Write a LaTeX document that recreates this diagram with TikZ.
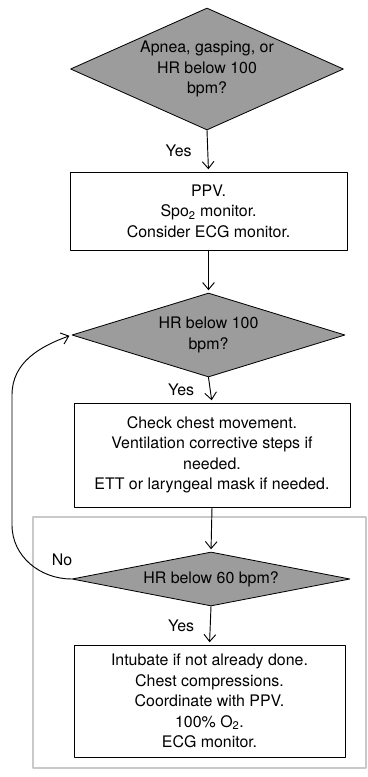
\documentclass[tikz,border=0pt]{standalone}
\usepackage{fontspec}
\setmainfont{TeX Gyre Heros}
\usetikzlibrary{shapes.geometric,arrows.meta}
\definecolor{FlowGray}{HTML}{9C9C9C}
\definecolor{FrameGray}{HTML}{C9C9C9}

\begin{document}
\begin{tikzpicture}[line cap=round,line join=round,
    font=\fontsize{13.6}{17.5}\selectfont,
    decision/.style={diamond,draw,fill=FlowGray,inner sep=0pt,align=center,line width=0.7pt},
    action/.style={rectangle,draw,fill=white,align=center,line width=0.7pt},
    flow/.style={-{Straight Barb[length=6pt,width=10pt]},line width=0.8pt,shorten >=2pt}]
  \useasboundingbox (0,0) rectangle (11.04,-23.31);
  \draw[FrameGray,line width=1.6pt] (0.99,-15.51) rectangle (10.98,-23.04);
  \node[decision,aspect=2.24,minimum width=8.19cm,minimum height=3.66cm] (d1) at (6.21,-2.07)
    {Apnea, gasping, or\\HR below 100\\bpm?};
  \node[action,minimum width=8.31cm,minimum height=2.34cm] (b1) at (6.255,-6.33)
    {PPV.\\Spo\textsubscript{2} monitor.\\Consider ECG monitor.};
  \node[decision,aspect=3.25,minimum width=8.19cm,minimum height=2.52cm] (d2) at (6.255,-10.05)
    {HR below 100\\bpm?};
  \node[action,minimum width=8.28cm,minimum height=3.12cm] (b2) at (6.36,-13.65)
    {Check chest movement.\\Ventilation corrective steps if\\needed.\\ETT or laryngeal mask if needed.};
  \node[decision,aspect=5.15,minimum width=8.34cm,minimum height=1.62cm] (d3) at (6.33,-17.37)
    {HR below 60 bpm?};
  \node[action,minimum width=8.13cm,minimum height=3.36cm] (b3) at (6.285,-21.03)
    {Intubate if not already done.\\Chest compressions.\\Coordinate with PPV.\\100\% O\textsubscript{2}.\\ECG monitor.};
  \coordinate (loopB) at (0.36,-15.75); \coordinate (loopT) at (0.36,-11.85);
  \draw[flow] (d1.south) -- (b1.north) node[midway,left=10pt] {Yes};
  \draw[flow] (b1.south) -- (d2.north);
  \draw[flow] (d2.south) -- (b2.north) node[midway,left=10pt] {Yes};
  \draw[flow] (b2.south) -- (d3.north);
  \draw[flow] (d3.south) -- (b3.north) node[midway,left=10pt] {Yes};
  \draw[flow] (d3.west) to[out=180,in=-90] (loopB) -- (loopT) to[out=90,in=200] (d2.west);
  \node (no) at (1.86,-16.8) {No};
\end{tikzpicture}
\end{document}
